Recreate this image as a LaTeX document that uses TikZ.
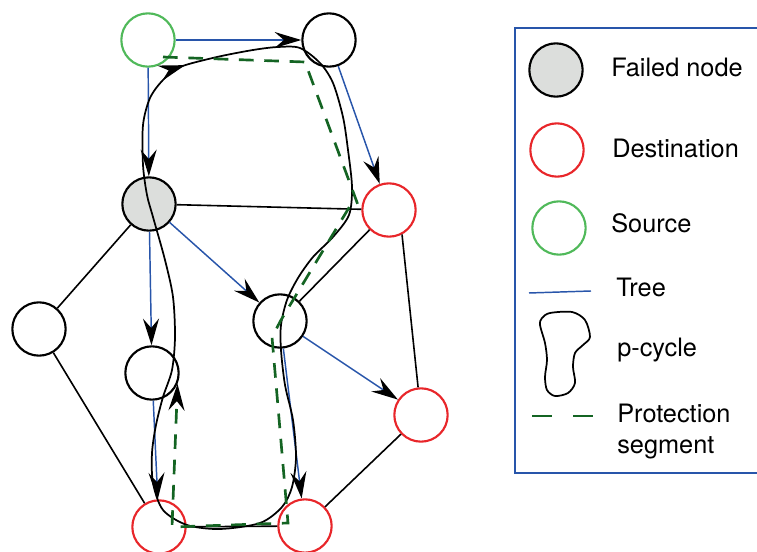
\documentclass[tikz,border=0pt]{standalone}
\usepackage{fontspec}
\setmainfont{TeX Gyre Heros}
\usetikzlibrary{arrows.meta,decorations.markings}

\definecolor{treeblue}{RGB}{40,85,170}
\definecolor{dstred}{RGB}{232,38,42}
\definecolor{srcgreen}{RGB}{80,185,90}
\definecolor{protgreen}{RGB}{20,100,35}
\definecolor{failgray}{RGB}{220,222,220}

\begin{document}
\begin{tikzpicture}[x=0.75pt, y=-0.75pt,
    vtx/.style={circle, draw, line width=1.6pt, minimum size=40pt, inner sep=0pt},
    failed/.style={vtx, fill=failgray},
    dest/.style={vtx, draw=dstred},
    srcv/.style={vtx, draw=srcgreen},
    bigtip/.style={-{Stealth[length=20pt, width=12pt, inset=7pt, color=black]}},
    treeedge/.style={draw=treeblue, line width=1.1pt},
    linkedge/.style={draw=black, line width=1.2pt},
    protseg/.style={draw=protgreen, line width=2pt, dash pattern=on 11pt off 8pt},
    pcycle/.style={draw=black, line width=1.3pt},
    legtext/.style={anchor=base west, inner sep=0pt, font=\fontsize{19}{23}\selectfont}]
    \useasboundingbox (0,0) rectangle (757,552);

    % network
    \node[srcv] (src) at (148,40) {};
    \node[vtx] (n1) at (329,40) {};
    \node[failed] (fail) at (149,204) {};
    \node[dest] (d1) at (389,210) {};
    \node[vtx] (n2) at (39,329) {};
    \node[vtx] (n3) at (152,373) {};
    \node[vtx] (n4) at (280,321) {};
    \node[dest] (d2) at (421,415) {};
    \node[dest] (d3) at (159,527) {};
    \node[dest] (d4) at (305,526) {};

    \draw[linkedge] (fail) -- (d1);
    \draw[linkedge] (fail) -- (n2);
    \draw[linkedge] (n2) -- (d3);
    \draw[linkedge] (d3) -- (d4);
    \draw[linkedge] (d4) -- (d2);
    \draw[linkedge] (d1.-62) -- (d2);
    \draw[linkedge] (d1) -- (n4);

    % multicast tree
    \foreach \a/\b in {src/n1, src/fail, n1/d1, fail/n3, fail/n4, n3/d3, n4/d4, n4/d2}
        \draw[treeedge, bigtip] (\a) -- (\b);

    % p-cycle
    \draw[pcycle, postaction={decorate}, decoration={markings,
        mark=at position 58pt with {\arrow{Stealth[length=20pt, width=12pt, inset=7pt]}}}]
        plot[smooth cycle] coordinates {(143,165) (143,125) (150,98) (163,80) (180,67)
        (217,57) (253,50) (278,47) (300,48) (320,63) (333,83) (343,117) (348,150)
        (352,187) (349,215) (333,237) (313,257) (298,278) (287,300) (281,325) (281,350)
        (285,385) (293,420) (296,457) (292,487) (282,507) (260,523) (220,529) (187,525)
        (163,510) (153,483) (152,453) (156,425) (163,397) (172,370) (175,337) (173,297)
        (165,260) (153,217) (147,195)};

    % protection segment
    \coordinate (p0) at (163,57);
    \coordinate (p1) at (305,62);
    \coordinate (p2) at (358,205);
    \coordinate (p3) at (350,206);
    \coordinate (p4) at (281,320);
    \coordinate (p5) at (272,337);
    \coordinate (p6) at (288,523);
    \coordinate (p7) at (172,527);
    \draw[protseg, bigtip] (p0) -- (p1) -- (p2) -- (p3) -- (p4) -- (p5) -- (p6) -- (p7) -- (n3.-23);

    % legend
    \draw[draw=treeblue, line width=1.2pt] (515,28) rectangle (800,473);
    \node[failed] (lgFail) at (556,70) {};
    \node[dest] (lgDest) at (557,150) {};
    \node[srcv] (lgSrc) at (559,228) {};
    \draw[treeedge] (529,293) -- (591,291);
    \draw[pcycle] plot[smooth cycle] coordinates {(542,318) (550,313) (572,312) (585,320)
        (590,337) (583,345) (575,353) (573,367) (575,383) (568,393) (555,396) (547,390)
        (545,377) (547,360) (545,343) (540,325)};
    \draw[protseg, dash pattern=on 15pt off 15.75pt] (532,416) -- (593,416);

    \node[legtext] (tFail) at (611,77) {Failed node};
    \node[legtext] (tDest) at (612,158) {Destination};
    \node[legtext] (tSrc) at (611,233) {Source};
    \node[legtext] (tTree) at (616,297) {Tree};
    \node[legtext] (tCyc) at (617,357) {p-cycle};
    \node[legtext] (tProt) at (617,422) {Protection};
    \node[legtext] (tSeg) at (617,453) {segment};
\end{tikzpicture}
\end{document}
